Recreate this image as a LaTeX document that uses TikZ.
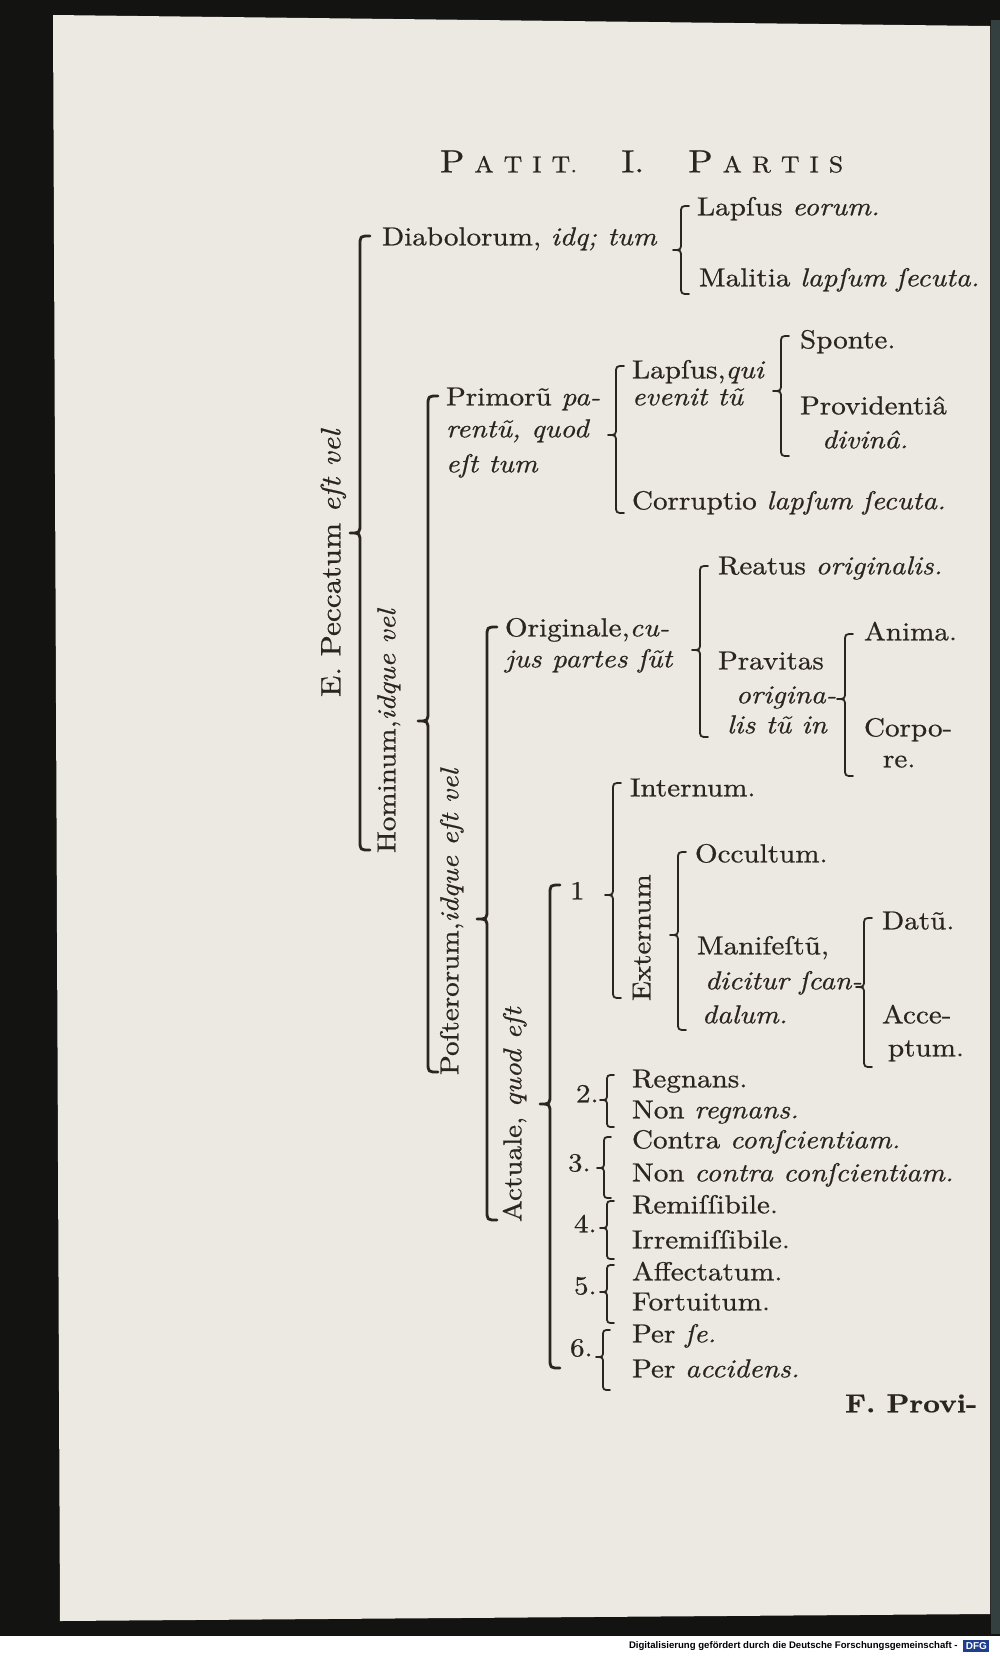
\documentclass[tikz,border=0pt]{standalone}
\usepackage{fontspec}
\setmainfont{lmroman10-regular}[Extension=.otf, ItalicFont=lmroman10-italic, BoldFont=lmroman10-bold, FakeStretch=1.12, FakeBold=0.7]
\newfontfamily\bannerfont{Liberation Sans}
\definecolor{ink}{HTML}{2A2520}
\definecolor{paper}{HTML}{EBE9E1}
\definecolor{dark}{HTML}{131311}
\definecolor{slate}{HTML}{34403F}
\definecolor{dfgblue}{HTML}{1F3E8C}
\newcommand\Brc[6]{%
  \draw[#1] (#2+#6,#3) .. controls (#2,#3) .. (#2,#3+#6) -- (#2,#4-#6)
    .. controls (#2,#4) .. (#2-#6,#4) .. controls (#2,#4) .. (#2,#4+#6)
    -- (#2,#5-#6) .. controls (#2,#5) .. (#2+#6,#5);}
\begin{document}
\begin{tikzpicture}[x=0.5pt,y=-0.5pt,
  rm/.style={anchor=mid west, inner sep=0pt, outer sep=0pt, text=ink, font=\fontsize{13}{15}\selectfont},
  vr/.style={rm, rotate=90},
  num/.style={rm},
  brc/.style={draw=ink, line width=0.9pt, line join=round, line cap=round},
  bigbrc/.style={brc, line width=1.4pt}]
\useasboundingbox (0,0) rectangle (1000,1656);
% background and page
\fill[dark] (0,0) rectangle (1000,1656);
\fill[slate] (991,20) rectangle (1000,1634);
\fill[paper] (53,15) -- (990,26) -- (990,1614) -- (60,1621) -- cycle;
\fill[white] (0,1636) rectangle (1000,1656);
% banner
\node[anchor=east, inner sep=0pt, font=\bannerfont\bfseries\fontsize{4.8}{6}\selectfont, text=black] (banner) at (958,1646) {Digitalisierung gefördert durch die Deutsche Forschungsgemeinschaft -};
\node[anchor=west, fill=dfgblue, text=white, inner sep=1.2pt, font=\bannerfont\bfseries\fontsize{5}{6}\selectfont] (logo) at (963,1646) {DFG};
% header
\node[rm, anchor=mid west] (head) at (440,168) {{\fontsize{16}{18}\selectfont P}\kern5pt{\fontsize{11.5}{14}\selectfont A\kern5pt T\kern5pt I\kern5pt T.}\kern22pt{\fontsize{16}{18}\selectfont I.}\kern22pt{\fontsize{16}{18}\selectfont P}\kern5pt{\fontsize{11.5}{14}\selectfont A\kern5pt R\kern5pt T\kern5pt I\kern5pt S}};
% rotated labels
\node[vr, font=\fontsize{14}{16}\selectfont] (pecc) at (336,697) {E. Peccatum \textit{eſt vel}};
\node[vr] (homin) at (391,853) {Hominum,\textit{idque vel}};
\node[vr] (poster) at (454,1075) {Poſterorum,\textit{idque eſt vel}};
\node[vr] (actual) at (517,1222) {Actuale, \textit{quod eſt}};
\node[vr] (extern) at (646,1001) {Externum};
% horizontal texts
\node[rm] (diab) at (382,241) {Diabolorum, \textit{idq; tum}};
\node[rm] (lapE) at (697,211) {Lapſus \textit{eorum.}};
\node[rm] (malit) at (699,282) {Malitia \textit{lapſum ſecuta.}};
\node[rm] (prim1) at (446,401) {Primorũ \textit{pa-}};
\node[rm] (prim2) at (446,433) {\textit{rentũ, quod}};
\node[rm] (prim3) at (446,468) {\textit{eſt tum}};
\node[rm] (lapQ1) at (632,374) {Lapſus,\textit{qui}};
\node[rm] (lapQ2) at (632,401) {\textit{evenit tũ}};
\node[rm] (sponte) at (800,344) {Sponte.};
\node[rm] (provid1) at (800,410) {Providentiâ};
\node[rm] (provid2) at (822,444) {\textit{divinâ.}};
\node[rm] (corrupt) at (632,505) {Corruptio \textit{lapſum ſecuta.}};
\node[rm] (orig1) at (505,632) {Originale,\textit{cu-}};
\node[rm] (orig2) at (505,663) {\textit{jus partes ſũt}};
\node[rm] (reatus) at (718,570) {Reatus \textit{originalis.}};
\node[rm] (prav1) at (718,665) {Pravitas};
\node[rm] (prav2) at (736,699) {\textit{origina-}};
\node[rm] (prav3) at (727,729) {\textit{lis tũ in}};
\node[rm] (anima) at (864,636) {Anima.};
\node[rm] (corpo1) at (864,732) {Corpo-};
\node[rm] (corpo2) at (883,763) {re.};
\node[num] (one) at (570,895) {1};
\node[rm] (intern) at (630,792) {Internum.};
\node[rm] (occult) at (695,858) {Occultum.};
\node[rm] (manif1) at (697,950) {Manifeſtũ,};
\node[rm] (manif2) at (705,985) {\textit{dicitur ſcan-}};
\node[rm] (manif3) at (702,1019) {\textit{dalum.}};
\node[rm] (datu) at (882,925) {Datũ.};
\node[rm] (acce1) at (882,1019) {Acce-};
\node[rm] (acce2) at (888,1052) {ptum.};
\node[num] (n2) at (576,1098) {2.};
\node[rm] (regn) at (632,1083) {Regnans.};
\node[rm] (nonregn) at (632,1114) {Non \textit{regnans.}};
\node[num] (n3) at (568,1167) {3.};
\node[rm] (contra) at (632,1144) {Contra \textit{conſcientiam.}};
\node[rm] (noncontra) at (632,1177) {Non \textit{contra conſcientiam.}};
\node[num] (n4) at (574,1228) {4.};
\node[rm] (remis) at (632,1209) {Remiſſibile.};
\node[rm] (irrem) at (632,1244) {Irremiſſibile.};
\node[num] (n5) at (574,1290) {5.};
\node[rm] (affect) at (632,1276) {Affectatum.};
\node[rm] (fortu) at (632,1306) {Fortuitum.};
\node[num] (n6) at (570,1352) {6.};
\node[rm] (perse) at (632,1338) {Per \textit{ſe.}};
\node[rm] (peracc) at (632,1373) {Per \textit{accidens.}};
\node[rm, font=\bfseries\fontsize{13}{15}\selectfont] (catch) at (845,1408) {F. Provi-};
% braces
\Brc{bigbrc}{360}{236}{533}{850}{10}
\Brc{brc}{681}{206}{250}{294}{8}
\Brc{bigbrc}{428}{396}{721}{1072}{10}
\Brc{brc}{616}{366}{435}{513}{8}
\Brc{brc}{781}{336}{391}{456}{8}
\Brc{bigbrc}{487}{627}{919}{1220}{10}
\Brc{brc}{700}{566}{650}{737}{8}
\Brc{brc}{845}{634}{699}{776}{8}
\Brc{bigbrc}{550}{885}{1104}{1368}{10}
\Brc{brc}{613}{783}{895}{998}{8}
\Brc{brc}{678}{852}{935}{1030}{8}
\Brc{brc}{864}{918}{987}{1067}{8}
\Brc{brc}{607}{1075}{1100}{1127}{7}
\Brc{brc}{604}{1137}{1168}{1198}{7}
\Brc{brc}{607}{1201}{1228}{1259}{7}
\Brc{brc}{607}{1265}{1292}{1323}{7}
\Brc{brc}{603}{1330}{1357}{1390}{7}
\end{tikzpicture}
\end{document}
